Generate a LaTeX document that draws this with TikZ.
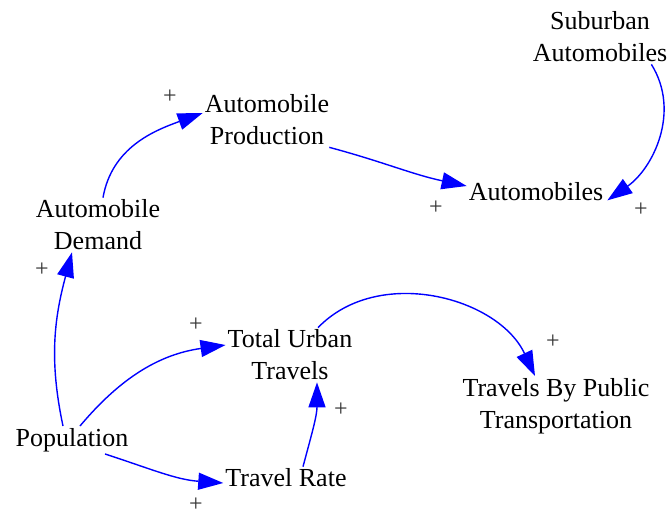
\documentclass[tikz,border=0pt]{standalone}
\usepackage{fontspec}
\setmainfont{Liberation Serif}
\usepackage{tikz}
\usetikzlibrary{arrows.meta}
\usetikzlibrary{positioning}
\tikzset{link/.style = {draw=blue, line width=1.4pt,
                        -{Triangle[length=25pt, width=17pt]}}}
\tikzset{var/.style = {align=center, inner sep=2pt, font=\fontsize{26}{32}\selectfont}}
\tikzset{sgn/.style = {inner sep=0, text=black!80, font=\fontsize{24}{24}\selectfont}}

\begin{document}
\begin{tikzpicture}[x=1pt, y=1pt]
    \useasboundingbox (0, 0) rectangle (667, -516);

    \node [var] (sub) at (600, -37) {Suburban\\Automobiles};
    \node [var] (prod) at (267, -120) {Automobile\\Production};
    \node [var] (autos) at (536, -192) {Automobiles};
    \node [var] (dem) at (98, -225) {Automobile\\Demand};
    \node [var] (tut) at (290, -355) {Total Urban\\Travels};
    \node [var] (tbpt) at (556, -406) {Travels By Public\\Transportation};
    \node [var] (pop) at (72, -440) {Population};
    \node [var] (rate) at (286, -478) {Travel Rate};

    \draw [link] ([xshift=5pt]dem.north) to [out=80, in=200] ([yshift=7pt]prod.west);
    \draw [link] ([xshift=-2pt]prod.south east) to [out=-15, in=168] ([yshift=6pt]autos.west);
    \draw [link] ([xshift=-18pt]sub.south east) to [out=-58, in=35] ([xshift=2pt, yshift=3pt]autos.south east);
    \draw [link] ([xshift=-9pt]pop.north) to [out=102, in=255] ([xshift=-26pt]dem.south);
    \draw [link] ([xshift=8pt]pop.north) to [out=50, in=188] ([yshift=10pt]tut.west);
    \draw [link] ([xshift=33pt]pop.south) to [out=-18, in=176] ([yshift=-5pt]rate.west);
    \draw [link] ([xshift=17pt]rate.north) to [out=75, in=270] ([xshift=27pt]tut.south);
    \draw [link] ([xshift=28pt]tut.north) to [out=46, in=115] ([xshift=-21pt]tbpt.north);

    % polarities
    \node [sgn] (s1) at (170, -97) {+};
    \node [sgn] (s2) at (436, -208) {+};
    \node [sgn] (s3) at (641, -210) {+};
    \node [sgn] (s4) at (42, -270) {+};
    \node [sgn] (s5) at (196, -325) {+};
    \node [sgn] (s6) at (196, -505) {+};
    \node [sgn] (s7) at (341, -410) {+};
    \node [sgn] (s8) at (553, -342) {+};
\end{tikzpicture}
\end{document}
